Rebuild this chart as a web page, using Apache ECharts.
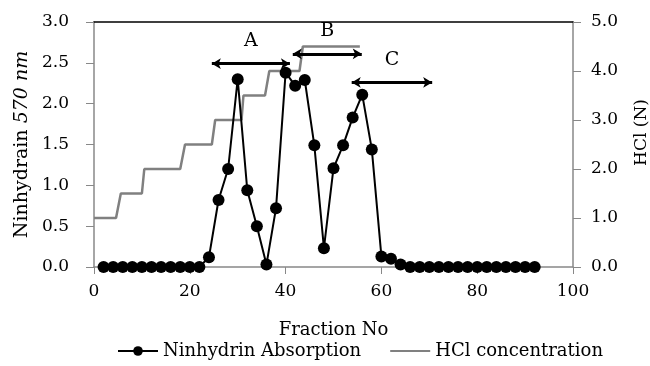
<!DOCTYPE html>
<html>
<head>
<meta charset="utf-8">
<script src="https://cdn.jsdelivr.net/npm/echarts@6/dist/echarts.min.js"></script>
<style>
  html, body { margin: 0; padding: 0; background: #fff; }
  #chart { width: 650px; height: 366px; }
</style>
</head>
<body>
<div id="chart"></div>
<script>
// fraction numbers and ninhydrin absorption (570 nm)
const fractions = [2, 4, 6, 8, 10, 12, 14, 16, 18, 20, 22, 24, 26, 28, 30, 32, 34, 36, 38, 40,
    42, 44, 46, 48, 50, 52, 54, 56, 58, 60, 62, 64, 66, 68, 70, 72, 74, 76, 78, 80, 82, 84, 86, 88, 90, 92];
const ninhydrin = [0, 0, 0, 0, 0, 0, 0, 0, 0, 0, 0, 0.12, 0.82, 1.2, 2.30, 0.94, 0.5, 0.03, 0.72, 2.38,
    2.22, 2.29, 1.49, 0.23, 1.21, 1.49, 1.83, 2.11, 1.44, 0.13, 0.10, 0.03, 0, 0, 0, 0, 0, 0, 0, 0, 0, 0, 0, 0, 0, 0];

// HCl step gradient (right axis)
const hclX = [0, 4.6, 5.6, 10, 10.5, 18, 19, 24.6, 25.3, 30.8, 31.2, 35.7, 36.6, 42.9, 43.6, 55.5];
const hclY = [1, 1, 1.5, 1.5, 2, 2, 2.5, 2.5, 3, 3, 3.5, 3.5, 4, 4, 4.5, 4.5];

// pooled fractions A, B, C (left axis units)
const poolNames = ['A', 'B', 'C'];
const poolStart = [24.6, 41.5, 53.8];
const poolEnd = [40.9, 55.9, 70.6];
const poolLevel = [2.49, 2.61, 2.26];

const xTicks = [0, 20, 40, 60, 80, 100];

const font = 'DejaVu Serif';

const chart = echarts.init(document.getElementById('chart'));

const option = {
    animation: false,
    textStyle: { fontFamily: font },
    grid: { left: 94, right: 77, top: 22, bottom: 99, containLabel: false, outerBoundsMode: 'none' },
    legend: {
        bottom: 1,
        left: 112,
        itemWidth: 40,
        itemHeight: 12,
        itemGap: 28,
        textStyle: { fontFamily: font, fontSize: 18, color: '#000' },
        data: [
            { name: 'Ninhydrin Absorption' },
            { name: 'HCl concentration', itemStyle: { opacity: 0 } }
        ]
    },
    xAxis: [
        {
            type: 'value',
            min: xTicks[0],
            max: xTicks[xTicks.length - 1],
            interval: 20,
            name: 'Fraction No',
            nameLocation: 'middle',
            nameGap: 54,
            nameTextStyle: { fontFamily: font, fontSize: 18, color: '#000' },
            axisLine: { onZero: false, lineStyle: { color: '#888', width: 1.5 } },
            axisTick: { show: true, inside: false, length: 7, lineStyle: { color: '#888' } },
            axisLabel: { fontFamily: font, fontSize: 17, color: '#000', margin: 16 },
            splitLine: { show: false }
        },
        {
            type: 'value',
            position: 'top',
            min: 0,
            max: 100,
            axisLine: { show: true, onZero: false, lineStyle: { color: '#000', width: 1.5 } },
            axisTick: { show: false },
            axisLabel: { show: false },
            splitLine: { show: false }
        }
    ],
    yAxis: [
        {
            type: 'value',
            min: 0,
            max: 3,
            interval: 0.5,
            position: 'left',
            name: '{a|Ninhydrain }{b|570 nm}',
            nameLocation: 'middle',
            nameRotate: 90,
            nameGap: 62,
            nameTextStyle: {
                rich: {
                    a: { fontFamily: font, fontSize: 19, color: '#000' },
                    b: { fontFamily: font, fontSize: 19, fontStyle: 'italic', color: '#000' }
                }
            },
            axisLine: { show: true, onZero: false, lineStyle: { color: '#888', width: 1.5 } },
            axisTick: { show: true, inside: false, length: 8, lineStyle: { color: '#888' } },
            axisLabel: {
                fontFamily: font, fontSize: 17, color: '#000', margin: 25,
                formatter: v => v.toFixed(1)
            },
            splitLine: { show: false }
        },
        {
            type: 'value',
            min: 0,
            max: 5,
            interval: 1,
            position: 'right',
            name: 'HCl (N)',
            nameLocation: 'middle',
            nameRotate: 90,
            nameGap: 60,
            nameTextStyle: { fontFamily: font, fontSize: 17, color: '#000', padding: [0, 0, 0, 24] },
            axisLine: { show: true, onZero: false, lineStyle: { color: '#888', width: 1.5 } },
            axisTick: { show: true, inside: false, length: 8, lineStyle: { color: '#888' } },
            axisLabel: {
                fontFamily: font, fontSize: 17, color: '#000', margin: 18,
                formatter: v => v.toFixed(1)
            },
            splitLine: { show: false }
        }
    ],
    series: [
        {
            name: 'HCl concentration',
            type: 'line',
            yAxisIndex: 1,
            symbol: 'none',
            data: hclX.map((x, i) => [x, hclY[i]]),
            lineStyle: { color: '#808080', width: 2.5 },
            itemStyle: { color: '#808080' },
            z: 2
        },
        {
            name: 'Ninhydrin Absorption',
            type: 'line',
            yAxisIndex: 0,
            symbol: 'circle',
            symbolSize: 12,
            data: fractions.map((f, i) => [f, ninhydrin[i]]),
            lineStyle: { color: '#000', width: 2 },
            itemStyle: { color: '#000' },
            z: 3,
            markLine: {
                silent: true,
                symbol: ['arrow', 'arrow'],
                symbolSize: [8, 9],
                lineStyle: { color: '#000', width: 3, type: 'solid' },
                label: {
                    show: true,
                    position: 'middle',
                    distance: 13,
                    fontFamily: font,
                    fontSize: 19,
                    color: '#000',
                    formatter: p => p.name
                },
                data: poolNames.map((n, i) => [
                    { name: n, coord: [poolStart[i], poolLevel[i]] },
                    { coord: [poolEnd[i], poolLevel[i]] }
                ])
            }
        }
    ]
};

chart.setOption(option);
</script>
</body>
</html>
